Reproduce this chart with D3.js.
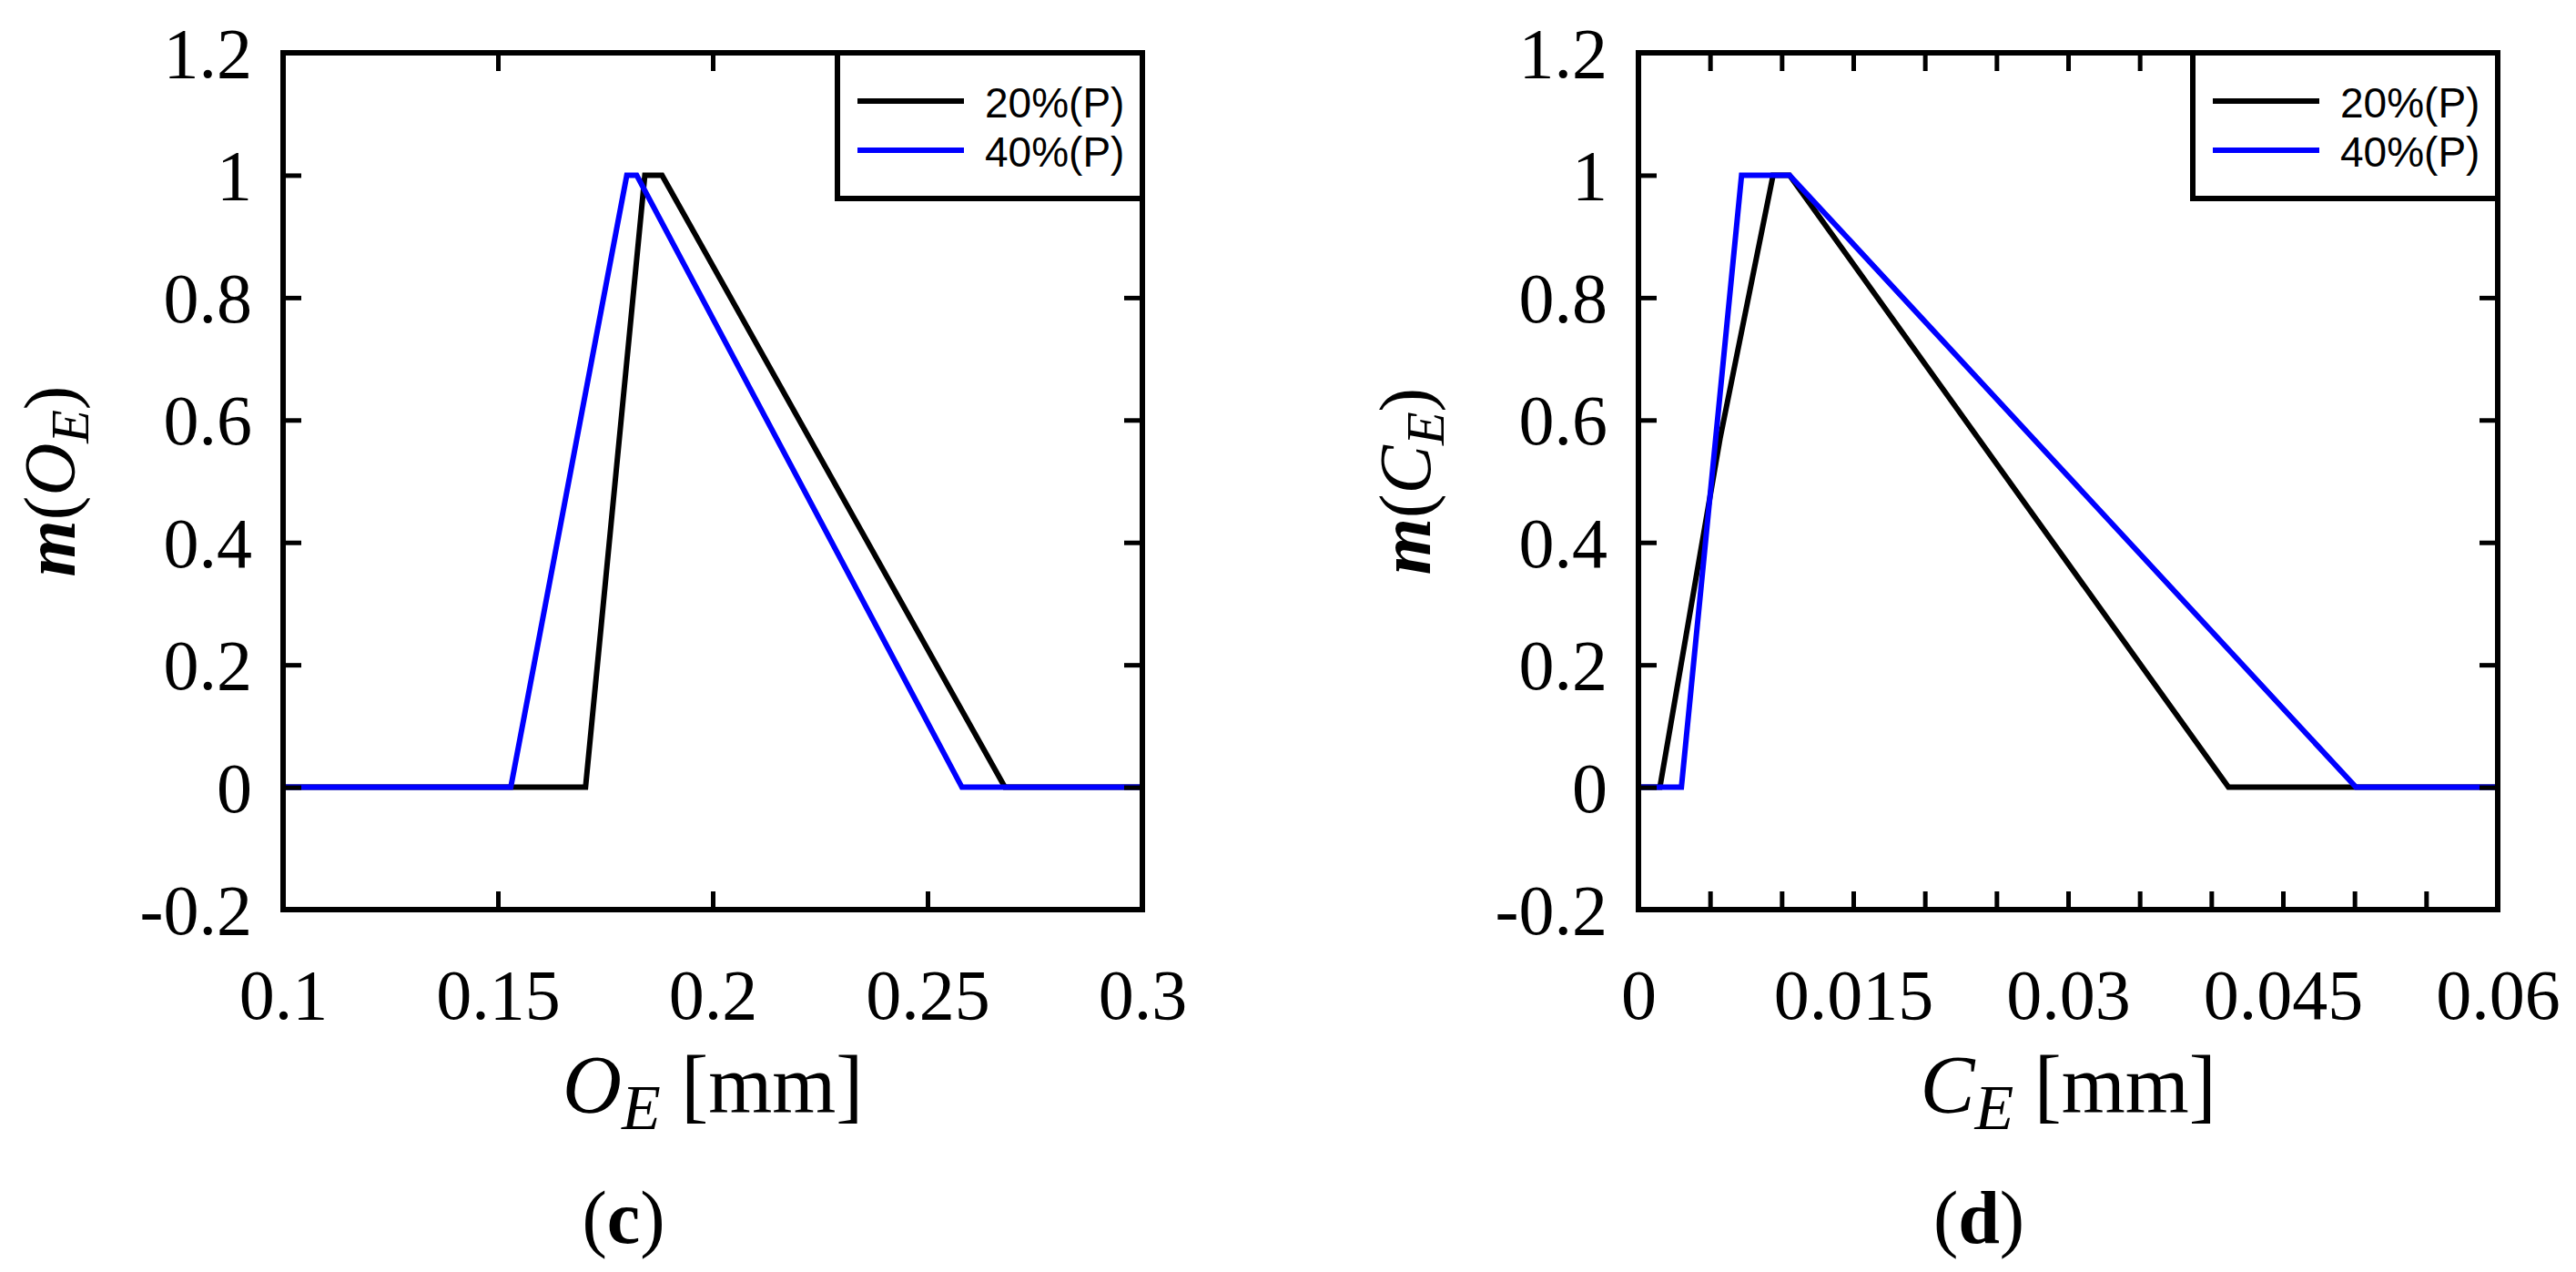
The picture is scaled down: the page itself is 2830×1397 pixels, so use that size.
<!DOCTYPE html>
<html>
<head>
<meta charset="utf-8">
<script src="https://cdn.jsdelivr.net/npm/d3@7"></script>
<style>
  html, body { margin: 0; padding: 0; background: #fff; }
  svg { display: block; }
  text { white-space: pre; }
</style>
</head>
<body>
<div id="chart"></div>
<script>
// ---- data ----
var yTickValues = [-0.2, 0, 0.2, 0.4, 0.6, 0.8, 1, 1.2];
var yTickLabels = ['-0.2', '0', '0.2', '0.4', '0.6', '0.8', '1', '1.2'];

var cTickValues = [0.1, 0.15, 0.2, 0.25, 0.3];
var cTickLabels = ['0.1', '0.15', '0.2', '0.25', '0.3'];

var dTickValues = [0, 0.015, 0.03, 0.045, 0.06];
var dTickLabels = ['0', '0.015', '0.03', '0.045', '0.06'];
var dMinorTicks = [0, 0.005, 0.01, 0.015, 0.02, 0.025, 0.03, 0.035, 0.04, 0.045, 0.05, 0.055, 0.06];

var seriesNames = ['20%(P)', '40%(P)'];
var seriesColors = ['#000000', '#0000ff'];

// panel (c): O_E
var c20x = [0.1, 0.1704, 0.1842, 0.1882, 0.268, 0.3];
var c20y = [0, 0, 1, 1, 0, 0];
var c40x = [0.1, 0.153, 0.180, 0.1823, 0.258, 0.3];
var c40y = [0, 0, 1, 1, 0, 0];

// panel (d): C_E
var d20x = [0, 0.0015, 0.0057, 0.0094, 0.01055, 0.0412, 0.06];
var d20y = [0, 0, 0.57, 1, 1, 0, 0];
var d40x = [0, 0.003, 0.0072, 0.01055, 0.0501, 0.06];
var d40y = [0, 0, 1, 1, 0, 0];

var W = 2830, H = 1397;
var serif = '"Liberation Serif", "Times New Roman", serif';
var sans = '"Liberation Sans", Arial, sans-serif';

var svg = d3.select('#chart').append('svg')
    .attr('width', W).attr('height', H);
svg.append('rect').attr('width', W).attr('height', H).attr('fill', '#fff');

function zip(xs, ys) {
    return xs.map(function (x, i) { return [x, ys[i]]; });
}

function panel(opt) {
    var left = opt.left, top = 58, w = 944, h = 941;
    var g = svg.append('g').attr('transform', 'translate(' + left + ',' + top + ')');

    var x = d3.scaleLinear().domain(opt.xDomain).range([0, w]);
    var y = d3.scaleLinear().domain([-0.2, 1.2]).range([h, 0]);

    // data lines
    var line = d3.line().x(function (d) { return x(d[0]); }).y(function (d) { return y(d[1]); });
    opt.series.forEach(function (s, i) {
        g.append('path')
            .datum(s)
            .attr('d', line)
            .attr('fill', 'none')
            .attr('stroke', seriesColors[i])
            .attr('stroke-width', 6)
            .attr('stroke-linejoin', 'miter');
    });

    // inward tick marks on all four sides
    function ticks(axis, transform) {
        var a = g.append('g').attr('transform', transform).call(axis);
        a.select('.domain').remove();
        a.selectAll('line').attr('stroke', '#000').attr('stroke-width', 5);
        a.selectAll('text').remove();
    }
    var tickLen = 20;
    ticks(d3.axisBottom(x).tickValues(opt.minor).tickSize(-tickLen), 'translate(0,' + h + ')');
    ticks(d3.axisTop(x).tickValues(opt.minor).tickSize(-tickLen), 'translate(0,0)');
    ticks(d3.axisLeft(y).tickValues(yTickValues).tickSize(-tickLen), 'translate(0,0)');
    ticks(d3.axisRight(y).tickValues(yTickValues).tickSize(-tickLen), 'translate(' + w + ',0)');

    // tick labels
    var xl = g.append('g').attr('transform', 'translate(0,' + h + ')')
        .call(d3.axisBottom(x).tickValues(opt.xTicks).tickSize(0).tickPadding(65)
            .tickFormat(function (d, i) { return opt.xLabels[i]; }));
    xl.select('.domain').remove();
    var yl = g.append('g')
        .call(d3.axisLeft(y).tickValues(yTickValues).tickSize(0).tickPadding(34)
            .tickFormat(function (d, i) { return yTickLabels[i]; }));
    yl.select('.domain').remove();
    yl.selectAll('text').attr('dy', '0.34em');
    [xl, yl].forEach(function (a) {
        a.attr('font-family', serif).attr('font-size', 78);
        a.selectAll('text').attr('fill', '#000');
    });

    // frame
    g.append('rect').attr('width', w).attr('height', h)
        .attr('fill', 'none').attr('stroke', '#000').attr('stroke-width', 6);

    // legend
    var lw = 335, lh = 160;
    var lg = g.append('g').attr('transform', 'translate(' + (w - lw) + ',0)');
    lg.append('rect').attr('width', lw).attr('height', lh)
        .attr('fill', '#fff').attr('stroke', '#000').attr('stroke-width', 6);
    seriesNames.forEach(function (name, i) {
        var ly = 53 + i * 54;
        lg.append('line').attr('x1', 22).attr('x2', 139).attr('y1', ly).attr('y2', ly)
            .attr('stroke', seriesColors[i]).attr('stroke-width', 6);
        lg.append('text').attr('x', 162).attr('y', ly + 18)
            .attr('font-family', sans).attr('font-size', 46).attr('fill', '#000')
            .text(name);
    });

    // y title: m(X_E)
    var yt = g.append('text')
        .attr('transform', 'translate(' + (-229) + ',' + (h / 2) + ') rotate(-90)')
        .attr('text-anchor', 'middle')
        .attr('font-family', serif).attr('font-size', 80).attr('fill', '#000');
    yt.append('tspan').attr('font-style', 'italic').attr('font-weight', 'bold').text('m');
    yt.append('tspan').text('(');
    yt.append('tspan').attr('font-style', 'italic').text(opt.sym);
    yt.append('tspan').attr('font-style', 'italic').attr('font-size', 60).attr('dy', 15).text('E');
    yt.append('tspan').attr('dy', -15).text(')');

    // x title: X_E [mm]
    var xt = g.append('text')
        .attr('x', w / 2).attr('y', 1222 - top)
        .attr('text-anchor', 'middle')
        .attr('font-family', serif).attr('font-size', 90).attr('fill', '#000');
    xt.append('tspan').attr('font-style', 'italic').text(opt.sym);
    xt.append('tspan').attr('font-style', 'italic').attr('font-size', 70).attr('dy', 18).text('E');
    xt.append('tspan').attr('dy', -18).text(' [mm]');

    // sub caption
    var sc = g.append('text')
        .attr('x', w / 2 - 98).attr('y', 1365 - top)
        .attr('text-anchor', 'middle')
        .attr('font-family', serif).attr('font-size', 82).attr('fill', '#000');
    sc.append('tspan').text('(');
    sc.append('tspan').attr('font-weight', 'bold').text(opt.tag);
    sc.append('tspan').text(')');
}

panel({
    left: 311,
    xDomain: [0.1, 0.3],
    xTicks: cTickValues,
    xLabels: cTickLabels,
    minor: cTickValues,
    series: [zip(c20x, c20y), zip(c40x, c40y)],
    sym: 'O',
    tag: 'c'
});

panel({
    left: 1800,
    xDomain: [0, 0.06],
    xTicks: dTickValues,
    xLabels: dTickLabels,
    minor: dMinorTicks,
    series: [zip(d20x, d20y), zip(d40x, d40y)],
    sym: 'C',
    tag: 'd'
});
</script>
</body>
</html>
